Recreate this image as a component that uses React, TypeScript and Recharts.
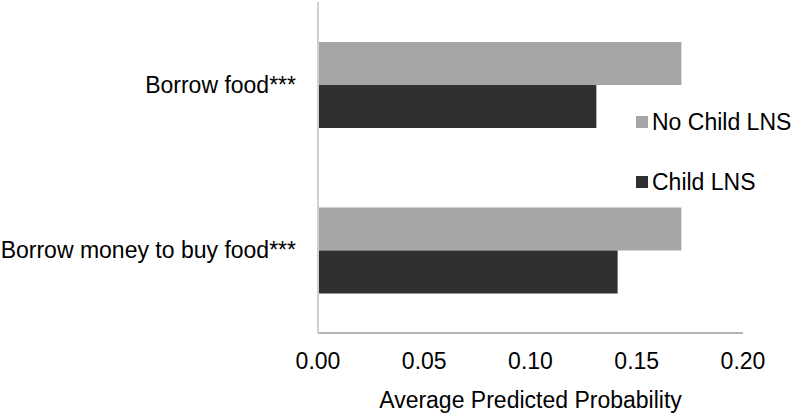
import { Bar, BarChart, XAxis, YAxis } from "recharts"

const categories = ["Borrow food***", "Borrow money to buy food***"]
const noChildLns = [0.171, 0.171]
const childLns = [0.131, 0.141]
const xTicks = [0, 0.05, 0.1, 0.15, 0.2]

const data = categories.map((name, i) => ({
	name,
	noChild: noChildLns[i],
	child: childLns[i],
}))

const FONT = "'Liberation Sans', Arial, sans-serif"
const FS = 23

const legendItems = [
	{ label: "No Child LNS", color: "#a6a6a6" },
	{ label: "Child LNS", color: "#303030" },
]

const ChartLegend = () => (
	<div
		style={{
			position: "absolute",
			left: 636,
			top: 107,
			fontFamily: FONT,
			fontSize: FS,
			color: "#000",
		}}
	>
		{legendItems.map((item) => (
			<div
				key={item.label}
				style={{ display: "flex", alignItems: "center", height: 30, marginBottom: 30 }}
			>
				<span
					style={{
						display: "inline-block",
						width: 12,
						height: 12,
						background: item.color,
						marginRight: 4,
					}}
				/>
				{item.label}
			</div>
		))}
	</div>
)

const App = () => (
	<div style={{ position: "absolute", top: 0, left: 0, width: 793, height: 413, background: "#fff" }}>
		<BarChart
			width={793}
			height={413}
			data={data}
			layout="vertical"
			margin={{ top: 2, right: 50, left: 0, bottom: 50 }}
			barGap={0}
			barSize={43}
		>
			<XAxis
				type="number"
				domain={[0, 0.2]}
				ticks={xTicks}
				tickFormatter={(v) => v.toFixed(2)}
				stroke="#b4b4b4"
				strokeWidth={2}
				tickLine={false}
				tick={{ fill: "#000", fontSize: FS, fontFamily: FONT }}
				tickMargin={14}
				label={{
					value: "Average Predicted Probability",
					position: "insideBottom",
					offset: -45,
					fill: "#000",
					fontSize: FS,
					fontFamily: FONT,
				}}
			/>
			<YAxis
				type="category"
				dataKey="name"
				width={318}
				stroke="#d0d0d0"
				strokeWidth={2}
				tickLine={false}
				tickMargin={16}
				tick={{ fill: "#000", fontSize: FS, fontFamily: FONT }}
			/>
			<Bar dataKey="noChild" name="No Child LNS" fill="#a6a6a6" isAnimationActive={false} />
			<Bar dataKey="child" name="Child LNS" fill="#303030" isAnimationActive={false} />
		</BarChart>
		<ChartLegend />
	</div>
)

export default App
